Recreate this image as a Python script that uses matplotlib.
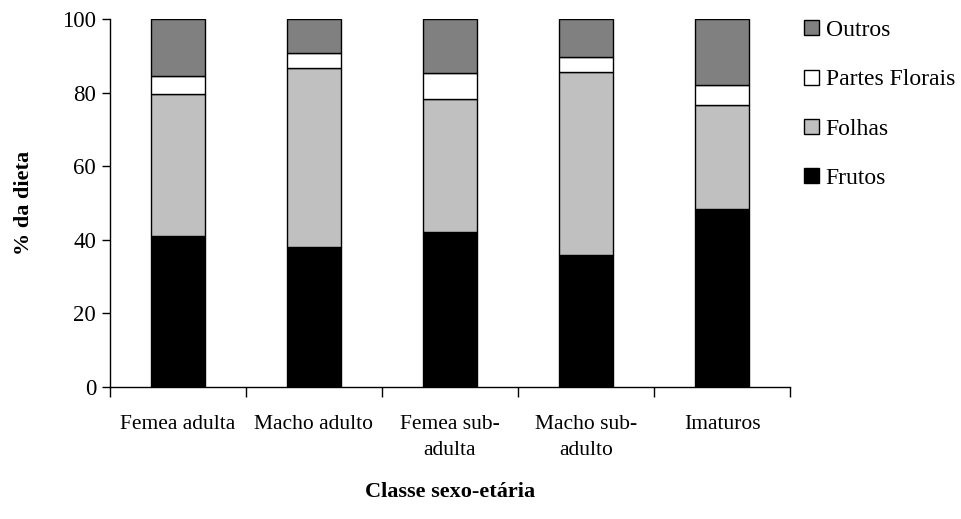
import matplotlib
matplotlib.use("Agg")
import matplotlib.pyplot as plt
import numpy as np

categories = ["Femea adulta", "Macho adulto", "Femea sub-\nadulta", "Macho sub-\nadulto", "Imaturos"]
frutos = [41.0, 38.0, 42.1, 36.0, 48.4]
folhas = [38.6, 48.6, 36.2, 49.6, 28.2]
partes_florais = [5.0, 4.1, 6.9, 4.0, 5.5]
outros = [15.4, 9.3, 14.8, 10.4, 17.9]
yticks = [0, 20, 40, 60, 80, 100]

plt.rcParams['font.family'] = ['Liberation Serif', 'DejaVu Serif']

fig = plt.figure(figsize=(9.62, 5.19), dpi=100)
ax = fig.add_axes([110/962, 1-387/519, 680/962, 368/519])

x = np.arange(len(categories))
w = 0.40
series = [("Frutos", frutos, "#000000"), ("Folhas", folhas, "#C0C0C0"),
          ("Partes Florais", partes_florais, "#FFFFFF"), ("Outros", outros, "#808080")]
bottom = np.zeros(len(categories))
handles = []
for name, vals, col in series:
    b = ax.bar(x, vals, w, bottom=bottom, color=col, edgecolor="black", linewidth=1.0, label=name)
    handles.append(b)
    bottom = bottom + np.array(vals)

ax.set_xlim(-0.5, len(categories) - 0.5)
ax.set_ylim(0, 100)
ax.set_yticks(yticks)
ax.tick_params(axis='y', labelsize=16.5, direction='out', length=6, width=1, pad=4)
ax.set_xticks(x)
ax.set_xticklabels(categories, fontsize=15.5, linespacing=1.5)
ax.tick_params(axis='x', which='major', length=0, pad=20)
ax.set_xticks(np.arange(-0.5, len(categories)), minor=True)
ax.tick_params(axis='x', which='minor', direction='out', length=7, width=1)
for s in ['top', 'right']:
    ax.spines[s].set_visible(False)
for s in ['left', 'bottom']:
    ax.spines[s].set_linewidth(1)

ax.set_ylabel("% da dieta", fontsize=16, fontweight='bold', labelpad=20)
ax.set_xlabel("Classe sexo-etária", fontsize=16, fontweight='bold', labelpad=16)

leg = ax.legend(handles[::-1], [s[0] for s in series][::-1], loc='upper left',
                bbox_to_anchor=(0.99, 1.055), frameon=False, fontsize=17,
                handlelength=0.6, handleheight=0.6, handletextpad=0.3, labelspacing=1.2)

fig.savefig("out.png", dpi=100)
